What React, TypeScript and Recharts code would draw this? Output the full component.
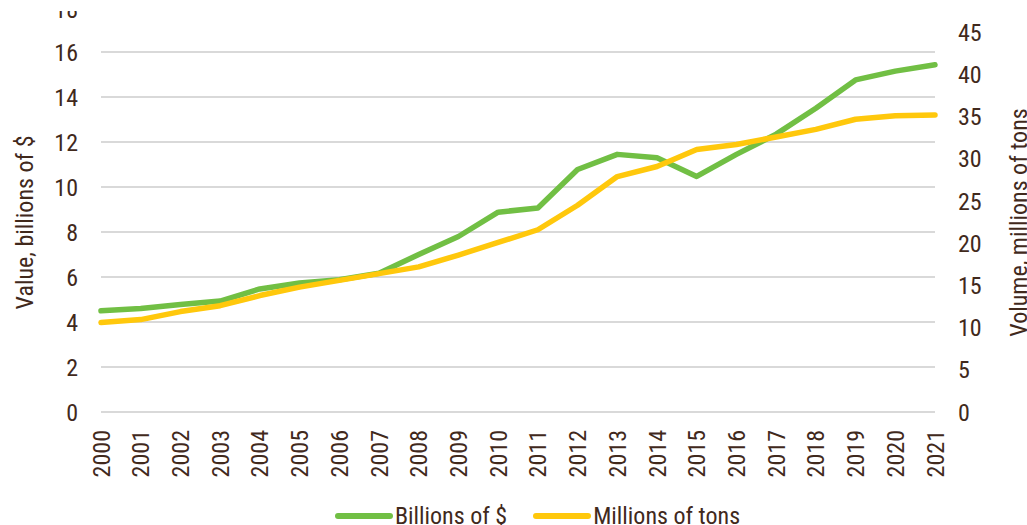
import {
  LineChart,
  Line,
  XAxis,
  YAxis,
  CartesianGrid,
  Legend,
} from "recharts";

const years = [
  "2000", "2001", "2002", "2003", "2004", "2005", "2006", "2007", "2008", "2009", "2010",
  "2011", "2012", "2013", "2014", "2015", "2016", "2017", "2018", "2019", "2020", "2021",
];
const billions = [
  4.5, 4.6, 4.78, 4.93, 5.47, 5.73, 5.88, 6.17, 7.0, 7.8, 8.88, 9.07, 10.78, 11.45,
  11.3, 10.47, 11.45, 12.35, 13.5, 14.76, 15.15, 15.43,
];
const millionsTons = [
  10.6, 10.95, 11.9, 12.6, 13.8, 14.8, 15.6, 16.4, 17.2, 18.6, 20.1, 21.6, 24.5, 27.9,
  29.1, 31.1, 31.7, 32.6, 33.5, 34.7, 35.1, 35.2,
];
const leftTicks = [0, 2, 4, 6, 8, 10, 12, 14, 16, 18];
const gridValues = [0, 2, 4, 6, 8, 10, 12, 14, 16];
const rightTicks = [0, 5, 10, 15, 20, 25, 30, 35, 40, 45];

const data = years.map((year, i) => ({
  year,
  billions: billions[i],
  tons: millionsTons[i],
}));

const FONT = "'Liberation Sans Narrow', 'Roboto Condensed', Roboto, sans-serif";
const TEXT = "#41291c";
const GREEN = "#71bf44";
const YELLOW = "#ffc80c";

const YearTick = (props: any) => {
  const { x, y, payload } = props;
  return (
    <g transform={`translate(${x},${y})`}>
      <text
        x={0}
        y={0}
        dy="0.36em"
        textAnchor="end"
        transform="rotate(-90)"
        fill={TEXT}
        fontSize={24}
        fontFamily={FONT}
      >
        {payload.value}
      </text>
    </g>
  );
};

// top label of the left axis is mostly hidden in the original
const LeftTick = (props: any) => {
  const { x, y, payload } = props;
  const top = payload.value === 18;
  return (
    <g>
      {top && (
        <defs>
          <clipPath id="topTickClip">
            <rect x={0} y={11} width={120} height={40} />
          </clipPath>
        </defs>
      )}
      <text
        x={x}
        y={y}
        dy="0.355em"
        textAnchor="end"
        fill={TEXT}
        fontSize={24}
        fontFamily={FONT}
        clipPath={top ? "url(#topTickClip)" : undefined}
      >
        {payload.value}
      </text>
    </g>
  );
};

const AxisTitle = (props: any) => {
  const { viewBox, value, side } = props;
  const cx = side === "left" ? viewBox.x + 24 : viewBox.x + viewBox.width - 9;
  const cy = viewBox.y + viewBox.height / 2 + 13;
  return (
    <text
      x={cx}
      y={cy}
      dy="0.355em"
      transform={`rotate(-90, ${cx}, ${cy})`}
      textAnchor="middle"
      fill={TEXT}
      fontSize={24}
      fontFamily={FONT}
    >
      {value}
    </text>
  );
};

const legendItems = [
  { label: "Billions of $", color: GREEN },
  { label: "Millions of tons", color: YELLOW },
];

const ChartLegend = () => (
  <div
    style={{
      display: "flex",
      justifyContent: "center",
      alignItems: "center",
      height: 26,
      paddingLeft: 48,
      fontFamily: FONT,
      fontSize: 24,
      color: TEXT,
    }}
  >
    {legendItems.map((item, i) => (
      <div
        key={item.label}
        style={{ display: "flex", alignItems: "center", marginRight: i === 0 ? 26 : 0 }}
      >
        <svg width={58} height={26}>
          <line x1={3} x2={55} y1={17} y2={17} stroke={item.color} strokeWidth={6} strokeLinecap="round" />
        </svg>
        <span style={{ marginLeft: 2, lineHeight: "26px", position: "relative", top: 4 }}>{item.label}</span>
      </div>
    ))}
  </div>
);

export default function App() {
  return (
    <div style={{ position: "absolute", left: 0, top: 0, background: "#fff" }}>
      <LineChart
        width={1027}
        height={525}
        data={data}
        margin={{ top: 7, right: 0, left: 0, bottom: 0 }}
      >
        <CartesianGrid
          yAxisId="left"
          vertical={false}
          horizontalValues={gridValues}
          stroke="#d9d9d9"
          strokeWidth={2}
        />
        <XAxis
          dataKey="year"
          interval={0}
          height={87}
          axisLine={false}
          tickLine={false}
          tickSize={0}
          tickMargin={18}
          tick={<YearTick />}
        />
        <YAxis
          yAxisId="left"
          orientation="left"
          width={101}
          domain={[0, 18]}
          ticks={leftTicks}
          axisLine={false}
          tickLine={false}
          tickSize={0}
          tickMargin={23}
          tick={<LeftTick />}
          label={<AxisTitle side="left" value="Value, billions of $" />}
        />
        <YAxis
          yAxisId="right"
          orientation="right"
          width={92}
          domain={[0, 48]}
          ticks={rightTicks}
          axisLine={false}
          tickLine={false}
          tickSize={0}
          tickMargin={23}
          tick={{ fill: TEXT, fontSize: 24, fontFamily: FONT, textAnchor: "start" }}
          label={<AxisTitle side="right" value="Volume, millions of tons" />}
        />
        <Legend verticalAlign="bottom" content={<ChartLegend />} />
        <Line
          yAxisId="left"
          type="linear"
          dataKey="billions"
          name="Billions of $"
          stroke={GREEN}
          strokeWidth={5.5}
          strokeLinecap="round"
          strokeLinejoin="round"
          dot={false}
          activeDot={false}
          isAnimationActive={false}
        />
        <Line
          yAxisId="right"
          type="linear"
          dataKey="tons"
          name="Millions of tons"
          stroke={YELLOW}
          strokeWidth={5.5}
          strokeLinecap="round"
          strokeLinejoin="round"
          dot={false}
          activeDot={false}
          isAnimationActive={false}
        />
      </LineChart>
    </div>
  );
}
